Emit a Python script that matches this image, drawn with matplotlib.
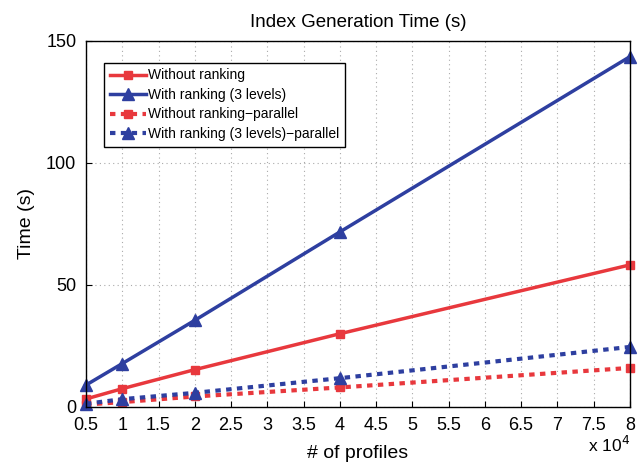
import matplotlib
matplotlib.use("Agg")
import matplotlib.pyplot as plt
import numpy as np

plt.rcParams["font.family"] = ["Liberation Sans", "DejaVu Sans"]

# number of profiles
profiles = [5000, 10000, 20000, 40000, 80000]
without_ranking = [3.3, 7.5, 15.3, 30.0, 58.2]
with_ranking = [9.0, 17.8, 35.5, 71.7, 143.5]
without_ranking_par = [1.0, 2.0, 4.3, 8.0, 16.0]
with_ranking_par = [1.3, 3.2, 5.8, 11.8, 24.6]

xticks = [0.5, 1, 1.5, 2, 2.5, 3, 3.5, 4, 4.5, 5, 5.5, 6, 6.5, 7, 7.5, 8]
yticks = [0, 50, 100, 150]

RED = "#e8383d"
BLUE = "#2e3fa0"

fig = plt.figure(figsize=(6.42, 4.67), dpi=100)
ax = fig.add_axes([0.134, 0.1285, 0.847, 0.784])

xs = np.array(profiles) / 1e4
ax.plot(xs, without_ranking, color=RED, lw=2.5, marker="s", ms=6,
        label="Without ranking", clip_on=False, zorder=3)
ax.plot(xs, with_ranking, color=BLUE, lw=2.5, marker="^", ms=8,
        label="With ranking (3 levels)", clip_on=False, zorder=3)
ax.plot(xs, without_ranking_par, color=RED, lw=3, ls=(0, (1.3, 1.3)), marker="s", ms=6,
        label="Without ranking\u2212parallel", clip_on=False, zorder=3)
ax.plot(xs, with_ranking_par, color=BLUE, lw=3, ls=(0, (1.3, 1.3)), marker="^", ms=8,
        label="With ranking (3 levels)\u2212parallel", clip_on=False, zorder=3)

ax.set_xlim(0.5, 8)
ax.set_ylim(0, 150)
ax.set_xticks(xticks)
ax.set_xticklabels([f"{t:g}" for t in xticks])
ax.set_yticks(yticks)
ax.tick_params(labelsize=13, direction="in", length=4, pad=7)
ax.grid(True, ls=(0, (1, 3)), color="#aaaaaa", lw=0.8)
for s in ax.spines.values():
    s.set_linewidth(1.0)
    s.set_zorder(4)

ax.set_title("Index Generation Time (s)", fontsize=13.5, pad=10)
ax.set_xlabel("# of profiles", fontsize=14, labelpad=8)
ax.set_ylabel("Time (s)", fontsize=14, labelpad=8)
ax.text(1.0, -0.075, r"x 10$^4$", transform=ax.transAxes, ha="right", va="top", fontsize=12.5)

leg = ax.legend(loc="upper left", bbox_to_anchor=(0.033, 0.94), fontsize=10,
                frameon=True, fancybox=False, edgecolor="black", framealpha=1,
                handlelength=2.6, borderpad=0.4, labelspacing=0.4, handletextpad=0.2,
                borderaxespad=0)
leg.get_frame().set_linewidth(1.0)
leg.set_zorder(5)

fig.savefig("out.png", dpi=100)
